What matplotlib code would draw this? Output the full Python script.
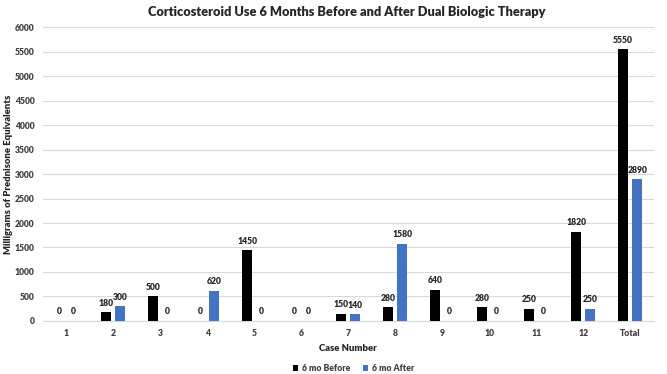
import matplotlib
matplotlib.use("Agg")
import matplotlib.pyplot as plt
import numpy as np

plt.rcParams['font.family'] = ['Lato', 'DejaVu Sans']

cases = ["1", "2", "3", "4", "5", "6", "7", "8", "9", "10", "11", "12", "Total"]
before = [0, 180, 500, 0, 1450, 0, 150, 280, 640, 280, 250, 1820, 5550]
after = [0, 300, 0, 620, 0, 0, 140, 1580, 0, 0, 0, 250, 2890]

black = "#000000"
blue = "#4472C4"

fig = plt.figure(figsize=(6.67, 3.74), dpi=100)
ax = fig.add_axes([0.064, 0.142, 0.916, 0.785])

x = np.arange(len(cases))
w = 0.21
off = 0.15
b1 = ax.bar(x - off, before, w, color=black, label="6 mo Before", zorder=3)
b2 = ax.bar(x + off, after, w, color=blue, label="6 mo After", zorder=3)

for rects, vals in ((b1, before), (b2, after)):
    for r, v in zip(rects, vals):
        ax.text(r.get_x() + r.get_width() / 2, v + 90, f"{v}", ha="center", va="bottom",
                fontsize=6.2, fontweight="heavy", color="#262626")

ax.set_xlim(-0.5, len(cases) - 0.5)
ax.set_ylim(0, 6000)
ax.set_yticks(np.arange(0, 6001, 500))
ax.set_xticks(x)
ax.set_xticklabels(cases)
ax.tick_params(axis="both", length=0, labelsize=6.2, labelcolor="#404040")
for lab in ax.get_xticklabels() + ax.get_yticklabels():
    lab.set_fontweight("heavy")
ax.tick_params(axis="x", pad=6)
ax.tick_params(axis="y", pad=6)

ax.grid(axis="y", color="#d9d9d9", linewidth=0.8, zorder=0)
for s in ["top", "right", "left"]:
    ax.spines[s].set_visible(False)
ax.spines["bottom"].set_color("#d9d9d9")

ax.set_xlabel("Case Number", fontsize=6.8, fontweight="heavy", color="#262626", labelpad=4)
ax.set_ylabel("Milligrams of Prednisone Equivalents", fontsize=6.8, fontweight="heavy",
              color="#262626")
ax.yaxis.set_label_coords(-0.048, 0.5)
fig.suptitle("Corticosteroid Use 6 Months Before and After Dual Biologic Therapy",
             fontsize=9.2, fontweight="heavy", y=0.985, x=0.52, color="#262626")

leg = fig.legend(handles=[b1, b2], loc="lower center", bbox_to_anchor=(0.53, -0.018), ncol=2,
                 frameon=False, fontsize=6.2, handlelength=0.6, handleheight=0.6,
                 handletextpad=0.4, columnspacing=1.5)
for t in leg.get_texts():
    t.set_fontweight("heavy")
    t.set_color("#404040")

fig.savefig("out.png", dpi=100)
